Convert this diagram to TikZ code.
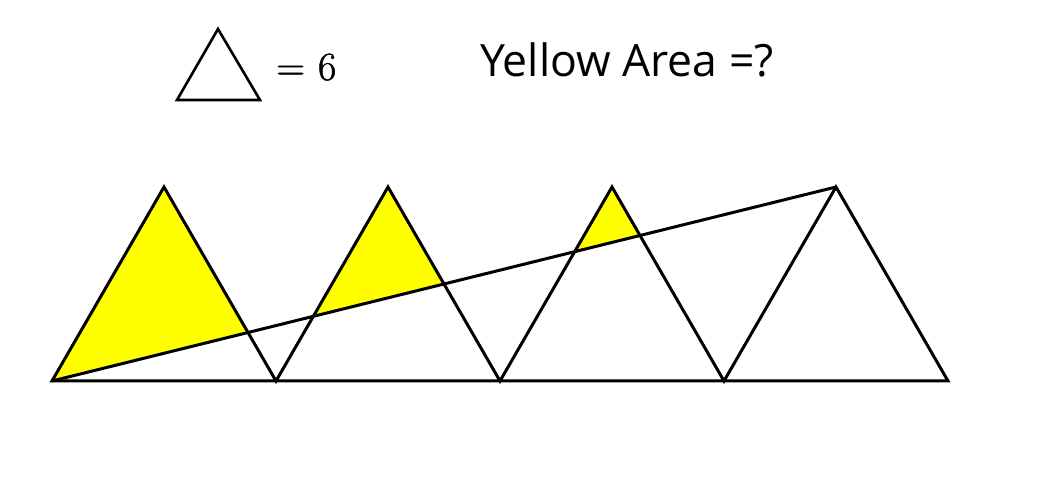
\documentclass[tikz,border=0pt]{standalone}
\usepackage{fontspec}
\newfontfamily\labelfont{Open Sans}
\newfontfamily\eqfont[FakeBold=1.2]{Latin Modern Roman}
\begin{document}
\begin{tikzpicture}[x=1pt,y=-1pt,
  edge/.style={draw=black,line width=3pt,line join=miter},
  small/.style={draw=black,line width=2.6pt},
  yellowfill/.style={fill={rgb,255:red,255;green,255;blue,0}}]
\useasboundingbox (0,0) rectangle (1050,494);
% base points
\coordinate (b0) at (52,381);
\coordinate (b1) at (276,381);
\coordinate (b2) at (500,381);
\coordinate (b3) at (724,381);
\coordinate (b4) at (948,381);
\coordinate (t1) at (164,187);
\coordinate (t2) at (388,187);
\coordinate (t3) at (612,187);
\coordinate (t4) at (836,187);
% yellow regions: parts of triangles 1-3 above the diagonal
\begin{scope}
  \clip (b0) -- (t1) -- (b1) -- (t2) -- (b2) -- (t3) -- (b3) -- cycle;
  \fill[yellowfill] (b0) -- (t4) -- (836,0) -- (52,0) -- cycle;
\end{scope}
% outlines
\draw[edge] (b0) -- (t1) -- (b1) -- (t2) -- (b2) -- (t3) -- (b3) -- (t4) -- (b4) -- cycle;
\draw[edge] (b0) -- (t4);
% header
\coordinate (s1) at (177,100);
\coordinate (s2) at (218,29);
\coordinate (s3) at (260,100);
\draw[small] (s1) -- (s2) -- (s3) -- cycle;
\node[anchor=base west,inner sep=0pt,font=\eqfont\fontsize{40}{44}\selectfont] (eq) at (276,80) {=\hspace{13pt}6};
\node[anchor=base west,inner sep=0pt,font=\labelfont\fontsize{44.5}{50}\selectfont] (q) at (480,77) {Yellow Area =?};
\end{tikzpicture}
\end{document}
